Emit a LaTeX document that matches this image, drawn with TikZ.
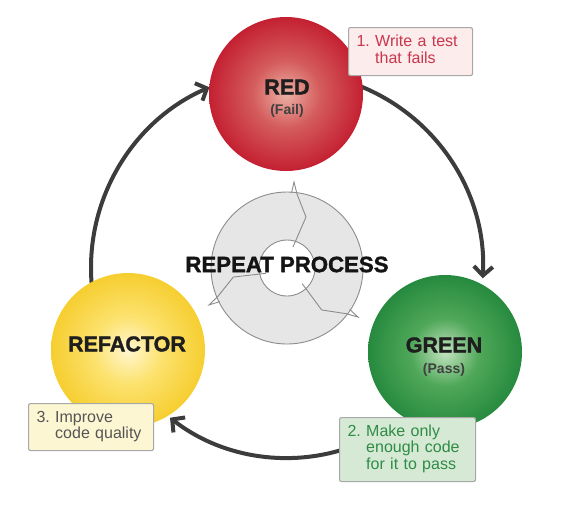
\documentclass[tikz,border=0pt]{standalone}
\usepackage{fontspec}
\setmainfont{Liberation Sans}
\newfontfamily\heavyfont[UprightFeatures={FakeBold=1.6}, BoldFeatures={FakeBold=1.6}]{Liberation Sans}
\usetikzlibrary{arrows.meta}

\definecolor{flowc}{HTML}{3C3C3C}
\definecolor{redin}{RGB}{236,176,164}
\definecolor{redmid}{RGB}{212,92,92}
\definecolor{redout}{RGB}{196,32,50}
\definecolor{grnin}{RGB}{196,228,192}
\definecolor{grnmid}{RGB}{80,168,90}
\definecolor{grnout}{RGB}{38,138,62}
\definecolor{ylwin}{RGB}{255,247,208}
\definecolor{ylwmid}{RGB}{252,226,110}
\definecolor{ylwout}{RGB}{246,206,48}
\definecolor{ringfill}{HTML}{E6E6E6}
\definecolor{ringline}{HTML}{8C8C8C}
\definecolor{boxline}{HTML}{A8A8A8}
\definecolor{boxonefill}{HTML}{FDECEC}
\definecolor{boxonetext}{HTML}{C8364C}
\definecolor{boxtwofill}{HTML}{D6E9D4}
\definecolor{boxtwotext}{HTML}{2E8C46}
\definecolor{boxthreefill}{HTML}{FDF6D3}
\definecolor{boxthreetext}{HTML}{555555}
\definecolor{headc}{HTML}{1E1E1E}

\pgfdeclareradialshading{redball}{\pgfpoint{0bp}{0bp}}{color(0bp)=(redin); color(11bp)=(redmid); color(25bp)=(redout); color(50bp)=(redout)}
\pgfdeclareradialshading{greenball}{\pgfpoint{0bp}{0bp}}{color(0bp)=(grnin); color(11bp)=(grnmid); color(25bp)=(grnout); color(50bp)=(grnout)}
\pgfdeclareradialshading{yellowball}{\pgfpoint{0bp}{0bp}}{color(0bp)=(ylwin); color(11bp)=(ylwmid); color(25bp)=(ylwout); color(50bp)=(ylwout)}

\newcommand\myheadfont{\heavyfont\bfseries\fontsize{21.5}{21.5}\selectfont}
\newcommand\mysubfont{\fontsize{14}{14}\selectfont\bfseries}
\newcommand\myboxfont{\fontsize{16}{16}\selectfont}

\tikzset{
  flow/.style={draw=flowc, line width=4pt, -{Straight Barb[length=9pt,width=19pt]}},
  ball/.style={circle, minimum size=154pt, inner sep=0pt, shade},
  headtext/.style={text=headc, font=\myheadfont, inner sep=0pt},
  subtext/.style={text=headc!85!white, font=\mysubfont, inner sep=0pt},
  notebox/.style={draw=boxline, line width=1.1pt, rounded corners=2pt, anchor=north west,
    inner xsep=8pt, inner ysep=0pt, align=left, font=\myboxfont},
  cut/.style={draw=ringline, line width=0.9pt, line join=miter},
}

\begin{document}
\begin{tikzpicture}[x=1pt, y=-1pt]
\useasboundingbox (0,0) rectangle (569,512);

% ring centre
\coordinate (C) at (287,268);

% connectors (drawn first so circles and boxes cover their starts)
\path (C) ++(-70:196) coordinate (a1s);
\path (C) ++(72:190) coordinate (a2s);
\path (C) ++(175:196) coordinate (a3s);
\draw[flow] (a1s) arc[start angle=-70, end angle=3, radius=196];
\draw[flow] (a2s) arc[start angle=72, end angle=128, radius=190];
\draw[flow] (a3s) arc[start angle=175, end angle=246.5, radius=197];

% repeat ring
\fill[ringfill, even odd rule] (C) circle[radius=76] (C) circle[radius=28];
\draw[ringline, line width=0.9pt] (C) circle[radius=76];
\draw[ringline, line width=0.9pt] (C) circle[radius=28];
\foreach \r in {0,120,240}{
  \begin{scope}[shift={(C)}, rotate=\r]
    \draw[cut] (4.5,-75) -- (7,-86) -- (10,-74) -- (19,-51) -- (9,-28) -- (6,-21);
  \end{scope}
}
\node[font=\heavyfont\bfseries\fontsize{22.2}{22.2}\selectfont, text=black!92, inner sep=0pt] (rep) at (287,264.5) {REPEAT PROCESS};

% balls
\node[ball, shading=redball] (red) at (286,94) {};
\node[ball, shading=greenball] (green) at (445,352) {};
\node[ball, shading=yellowball] (yellow) at (128,350) {};

\node[headtext] (redt) at (287,87) {RED};
\node[subtext] (reds) at (287,111) {(Fail)};
\node[headtext] (greent) at (444,345) {GREEN};
\node[subtext] (greens) at (444,370) {(Pass)};
\node[headtext] (reft) at (127,344) {REFACTOR};

% note boxes
\node[notebox, fill=boxonefill, text=boxonetext, text width=108pt, minimum height=48pt] (n1) at (348,27)
  {\begin{tabular}{@{}l@{\ }l@{}}1. & Write a test\\ & that fails\end{tabular}};
\node[notebox, fill=boxtwofill, text=boxtwotext, text width=120pt, minimum height=64pt] (n2) at (339,417)
  {\begin{tabular}{@{}l@{\ }l@{}}2. & Make only\\ & enough code\\ & for it to pass\end{tabular}};
\node[notebox, fill=boxthreefill, text=boxthreetext, text width=109pt, minimum height=47pt] (n3) at (28,403)
  {\begin{tabular}{@{}l@{\ }l@{}}3. & Improve\\ & code quality\end{tabular}};
\end{tikzpicture}
\end{document}
